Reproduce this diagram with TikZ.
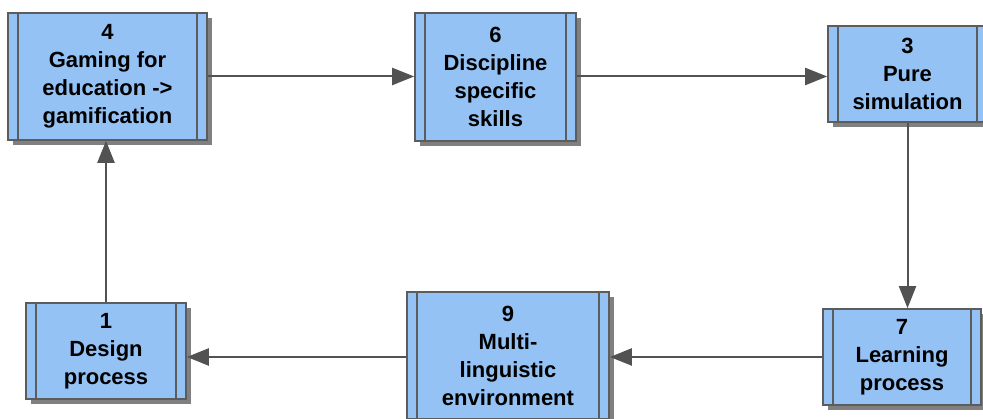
\documentclass[tikz,border=0pt]{standalone}
\usepackage{fontspec}
\setmainfont{Liberation Sans}
\usetikzlibrary{arrows.meta,shadows}

\definecolor{boxblue}{HTML}{94C2F4}
\definecolor{boxline}{HTML}{5C5C5C}

\begin{document}
\begin{tikzpicture}[x=1pt, y=-1pt, line width=1.6pt, draw=boxline,
    -{Triangle[length=22pt, width=17pt]}]
    \tikzstyle{process}=[rectangle, draw=boxline, fill=boxblue, inner sep=0pt, -,
        align=center, font=\bfseries\fontsize{22}{28}\selectfont,
        drop shadow={shadow xshift=5pt, shadow yshift=-5pt, fill=black!50, opacity=1},
        path picture={
            \draw[boxline, line width=1.6pt]
                ([xshift=10pt]path picture bounding box.north west) --
                ([xshift=10pt]path picture bounding box.south west)
                ([xshift=-10pt]path picture bounding box.north east) --
                ([xshift=-10pt]path picture bounding box.south east);
        }]
    \tikzstyle{flow}=[draw=black!68, line width=2pt]

    \useasboundingbox (0,0) rectangle (983,419);

    % top row
    \node[process, minimum width=199pt, minimum height=127pt] (B4) at (107.5,76.5)
        {4\\Gaming for\\education ->\\gamification};
    \node[process, minimum width=161pt, minimum height=128pt] (B6) at (495.5,77)
        {6\\Discipline\\specific\\skills};
    \node[process, minimum width=159pt, minimum height=96pt] (B3) at (907.5,74)
        {3\\Pure\\simulation};

    % bottom row
    \node[process, minimum width=160pt, minimum height=96pt] (B1) at (106,351)
        {1\\Design\\process};
    \node[process, minimum width=202pt, minimum height=127pt] (B9) at (508,355.5)
        {9\\Multi-\\linguistic\\environment};
    \node[process, minimum width=158pt, minimum height=96pt] (B7) at (902,357)
        {7\\Learning\\process};

    \draw[flow] (B4.east) -- (B4.east -| B6.west);
    \draw[flow] (B4.east -| B6.east) -- (B4.east -| B3.west);
    \draw[flow] (B3.south) -- (B3.south |- B7.north);
    \draw[flow] (B7.west) -- (B7.west -| B9.east);
    \draw[flow] (B7.west -| B9.west) -- (B7.west -| B1.east);
    \draw[flow] (B1.north) -- (B1.north |- B4.south);
\end{tikzpicture}
\end{document}
